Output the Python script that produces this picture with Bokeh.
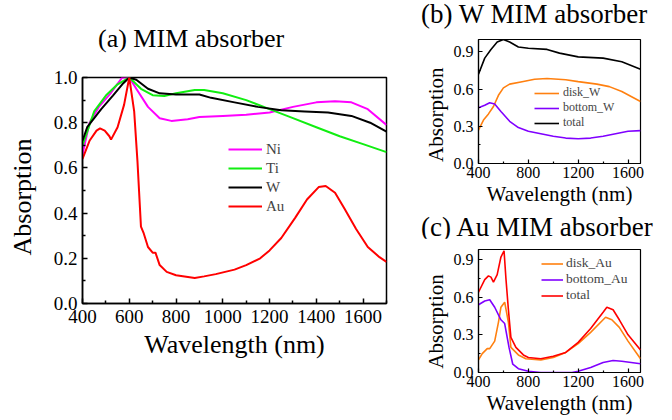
from bokeh.plotting import figure
from bokeh.layouts import row, column
from bokeh.models import Range1d, FixedTicker, Legend, LegendItem, NumeralTickFormatter, Div
from bokeh.embed import file_html
from bokeh.resources import INLINE

FONT = "Liberation Serif"
NBSP = "\u00a0"

# ---- Panel (a) data ----
ni_x = [400, 430, 470, 520, 570, 600, 630, 680, 730, 780, 850, 900, 1000, 1100, 1200, 1300, 1400, 1480, 1550, 1620, 1700]
ni_y = [0.66, 0.80, 0.87, 0.93, 1.00, 1.00, 0.95, 0.87, 0.82, 0.808, 0.815, 0.825, 0.83, 0.835, 0.845, 0.87, 0.89, 0.895, 0.89, 0.86, 0.79]
ti_x = [400, 450, 500, 550, 600, 650, 700, 750, 800, 880, 920, 1000, 1100, 1200, 1300, 1400, 1500, 1600, 1700]
ti_y = [0.70, 0.85, 0.92, 0.97, 1.00, 0.95, 0.922, 0.918, 0.93, 0.945, 0.945, 0.93, 0.90, 0.86, 0.82, 0.78, 0.74, 0.705, 0.67]
w_x = [400, 420, 480, 530, 570, 600, 630, 680, 730, 800, 900, 950, 1050, 1150, 1250, 1350, 1450, 1550, 1630, 1700]
w_y = [0.72, 0.78, 0.86, 0.92, 0.97, 1.00, 0.99, 0.95, 0.93, 0.925, 0.925, 0.91, 0.89, 0.87, 0.855, 0.85, 0.845, 0.83, 0.80, 0.76]
au_x = [400, 430, 460, 475, 495, 515, 522, 550, 578, 600, 621, 635, 650, 662, 680, 700, 712, 730, 760, 800, 880, 920, 970, 1050,
        1100, 1160, 1200, 1250, 1310, 1360, 1410, 1440, 1480, 1520, 1570, 1620, 1670, 1700]
au_y = [0.64, 0.72, 0.765, 0.775, 0.765, 0.74, 0.725, 0.78, 0.88, 1.00, 0.85, 0.63, 0.34, 0.31, 0.25, 0.225, 0.225, 0.17, 0.14, 0.125, 0.113, 0.12, 0.13, 0.15,
        0.17, 0.20, 0.235, 0.29, 0.38, 0.46, 0.515, 0.52, 0.49, 0.42, 0.33, 0.25, 0.205, 0.184]

# ---- Panel (b) data ----
bw_x = [400, 450, 500, 550, 600, 650, 720, 800, 950, 1050, 1200, 1400, 1550, 1700]
bw_total = [0.72, 0.85, 0.92, 0.98, 1.00, 0.98, 0.94, 0.93, 0.92, 0.89, 0.86, 0.85, 0.82, 0.76]
dw_x = [400, 440, 480, 520, 560, 600, 650, 750, 850, 950, 1100, 1200, 1350, 1450, 1550, 1700]
dw_y = [0.27, 0.35, 0.40, 0.46, 0.55, 0.61, 0.64, 0.66, 0.68, 0.685, 0.675, 0.66, 0.64, 0.62, 0.58, 0.50]
botw_x = [400, 450, 490, 530, 580, 650, 720, 800, 900, 1000, 1100, 1200, 1300, 1400, 1500, 1600, 1700]
botw_y = [0.45, 0.47, 0.49, 0.48, 0.42, 0.34, 0.29, 0.26, 0.24, 0.22, 0.205, 0.20, 0.205, 0.22, 0.24, 0.26, 0.265]

# ---- Panel (c) data ----
ct_x = [400, 450, 480, 500, 520, 550, 580, 605, 620, 640, 660, 700, 760, 800, 900, 1000, 1100, 1200, 1300, 1400, 1430, 1480, 1530, 1600, 1700]
ct_y = [0.64, 0.74, 0.77, 0.76, 0.72, 0.78, 0.92, 0.97, 0.75, 0.50, 0.28, 0.20, 0.14, 0.12, 0.11, 0.13, 0.16, 0.24, 0.35, 0.48, 0.52, 0.50, 0.42, 0.30, 0.18]
cd_x = [400, 430, 470, 490, 530, 560, 580, 610, 640, 660, 690, 720, 780, 900, 1000, 1100, 1200, 1300, 1400, 1420, 1470, 1530, 1600, 1700]
cd_y = [0.10, 0.15, 0.19, 0.19, 0.25, 0.40, 0.52, 0.56, 0.40, 0.20, 0.17, 0.14, 0.11, 0.10, 0.12, 0.16, 0.23, 0.32, 0.42, 0.44, 0.42, 0.36, 0.25, 0.11]
cb_x = [400, 450, 490, 530, 580, 610, 645, 675, 720, 800, 900, 1150, 1200, 1300, 1400, 1480, 1550, 1700]
cb_y = [0.54, 0.57, 0.58, 0.52, 0.42, 0.39, 0.20, 0.066, 0.03, 0.01, 0.0, 0.0, 0.01, 0.04, 0.08, 0.095, 0.09, 0.07]

main_xticks = [400, 600, 800, 1000, 1200, 1400, 1600]
main_xminor = [500, 700, 900, 1100, 1300, 1500, 1700]
main_yticks = [0.0, 0.2, 0.4, 0.6, 0.8, 1.0]
main_yminor = [0.1, 0.3, 0.5, 0.7, 0.9]
sub_xticks = [400, 800, 1200, 1600]
sub_xminor = [600, 1000, 1400]
sub_yticks = [0.0, 0.3, 0.6, 0.9]
sub_yminor = [0.15, 0.45, 0.75]


def style(p, tick_size, label_size, xt, xm, yt, ym, xstand, ystand, tstand_x, tstand_y, tick_in, minor_in, lw, ylabel):
    p.xaxis.ticker = FixedTicker(ticks=xt, minor_ticks=xm)
    p.yaxis.ticker = FixedTicker(ticks=yt, minor_ticks=ym)
    p.yaxis.formatter = NumeralTickFormatter(format="0.0")
    for ax in (p.xaxis[0], p.yaxis[0]):
        ax.major_label_text_font = FONT
        ax.major_label_text_font_size = tick_size
        ax.major_label_text_color = "black"
        ax.axis_label_text_font = FONT
        ax.axis_label_text_font_size = label_size
        ax.axis_label_text_font_style = "normal"
        ax.axis_label_text_color = "black"
        ax.major_tick_in = tick_in
        ax.major_tick_out = 0
        ax.minor_tick_in = minor_in
        ax.minor_tick_out = 0
        ax.axis_line_color = "black"
        ax.axis_line_width = lw
        ax.major_tick_line_width = lw
        ax.minor_tick_line_width = lw
    p.xaxis.axis_label_standoff = xstand
    p.yaxis.axis_label_standoff = ystand
    p.xaxis.major_label_standoff = tstand_x
    p.yaxis.major_label_standoff = tstand_y
    p.xaxis.axis_label = "Wavelength (nm)"
    p.yaxis.axis_label = ylabel
    p.grid.visible = False
    p.outline_line_color = "black"
    p.outline_line_width = lw
    p.outline_line_alpha = 1.0


def title_div(text, width, height, size, left, top):
    html = ('<div style="padding:%dpx 0 0 %dpx; font-family:\'Liberation Serif\'; font-size:%dpx; '
            'line-height:%dpx; white-space:nowrap; color:black;">%s</div>' % (top, left, size, size, text))
    return Div(text=html, width=width, height=height, margin=0)


# ---------- Panel (a) ----------
div_a = title_div("(a) MIM absorber", 420, 56, 26, 98, 26)
pa = figure(width=420, height=364,
            x_range=Range1d(400, 1700), y_range=Range1d(0, 1.0),
            output_backend="svg", toolbar_location=None,
            min_border_left=82, min_border_right=34, min_border_top=21, min_border_bottom=117)
style(pa, "19px", "26px", main_xticks, main_xminor, main_yticks, main_yminor, 4, 14, 6, 5, 5, 3, 1.5,
      "Absorption" + NBSP * 2)
r_ni = pa.line(ni_x, ni_y, line_color="#FF00FF", line_width=2)
r_ti = pa.line(ti_x, ti_y, line_color="#11EE11", line_width=2)
r_w = pa.line(w_x, w_y, line_color="black", line_width=2)
r_au = pa.line(au_x, au_y, line_color="#FF0000", line_width=2)
leg_a = Legend(items=[LegendItem(label="Ni", renderers=[r_ni]),
                      LegendItem(label="Ti", renderers=[r_ti]),
                      LegendItem(label="W", renderers=[r_w]),
                      LegendItem(label="Au", renderers=[r_au])],
               location=(146, 88), padding=0, margin=0, spacing=1,
               glyph_width=34, glyph_height=18, label_height=18, label_standoff=4,
               label_text_font=FONT, label_text_font_size="15px",
               border_line_color=None, background_fill_alpha=0)
pa.add_layout(leg_a, "center")


def sub(bottom, yrange_end, ylabel):
    p = figure(width=252, height=182,
               x_range=Range1d(400, 1700), y_range=Range1d(0, yrange_end),
               output_backend="svg", toolbar_location=None,
               min_border_left=52, min_border_right=32, min_border_top=11, min_border_bottom=bottom)
    style(p, "16px", "21px", sub_xticks, sub_xminor, sub_yticks, sub_yminor, 1, 3, 3, 5, 4, 2, 1.2, ylabel)
    return p


# ---------- Panel (b) ----------
div_b = title_div("(b) W MIM absorber", 252, 28, 27, 1, 1)
pb = sub(47, 1.0, "Absorption" + NBSP * 5)
r1 = pb.line(dw_x, dw_y, line_color="#FF8010", line_width=1.6)
r2 = pb.line(botw_x, botw_y, line_color="#8000FF", line_width=1.6)
r3 = pb.line(bw_x, bw_total, line_color="black", line_width=1.6)
leg_b = Legend(items=[LegendItem(label="disk_W", renderers=[r1]),
                      LegendItem(label="bottom_W", renderers=[r2]),
                      LegendItem(label="total", renderers=[r3])],
               location=(56, 33), padding=0, margin=0, spacing=0,
               glyph_width=25, glyph_height=14, label_height=14, label_standoff=4,
               label_text_font=FONT, label_text_font_size="12px",
               border_line_color=None, background_fill_alpha=0)
pb.add_layout(leg_b, "center")

# ---------- Panel (c) ----------
div_c = title_div("(c) Au MIM absorber", 252, 28, 27, 1, 4)
pc = sub(48, 0.98, "Absorption" + NBSP * 4)
s1 = pc.line(cd_x, cd_y, line_color="#FF8010", line_width=1.6)
s2 = pc.line(cb_x, cb_y, line_color="#8000FF", line_width=1.6)
s3 = pc.line(ct_x, ct_y, line_color="#FF0000", line_width=1.6)
leg_c = Legend(items=[LegendItem(label="disk_Au", renderers=[s1]),
                      LegendItem(label="bottom_Au", renderers=[s2]),
                      LegendItem(label="total", renderers=[s3])],
               location=(63, 69), padding=0, margin=0, spacing=0,
               glyph_width=22, glyph_height=15, label_height=15, label_standoff=3,
               label_text_font=FONT, label_text_font_size="13.5px",
               border_line_color=None, background_fill_alpha=0)
pc.add_layout(leg_c, "center")

layout = row(column(div_a, pa, spacing=0), column(div_b, pb, div_c, pc, spacing=0), spacing=0)
open("out.html", "w").write(file_html(layout, INLINE))
